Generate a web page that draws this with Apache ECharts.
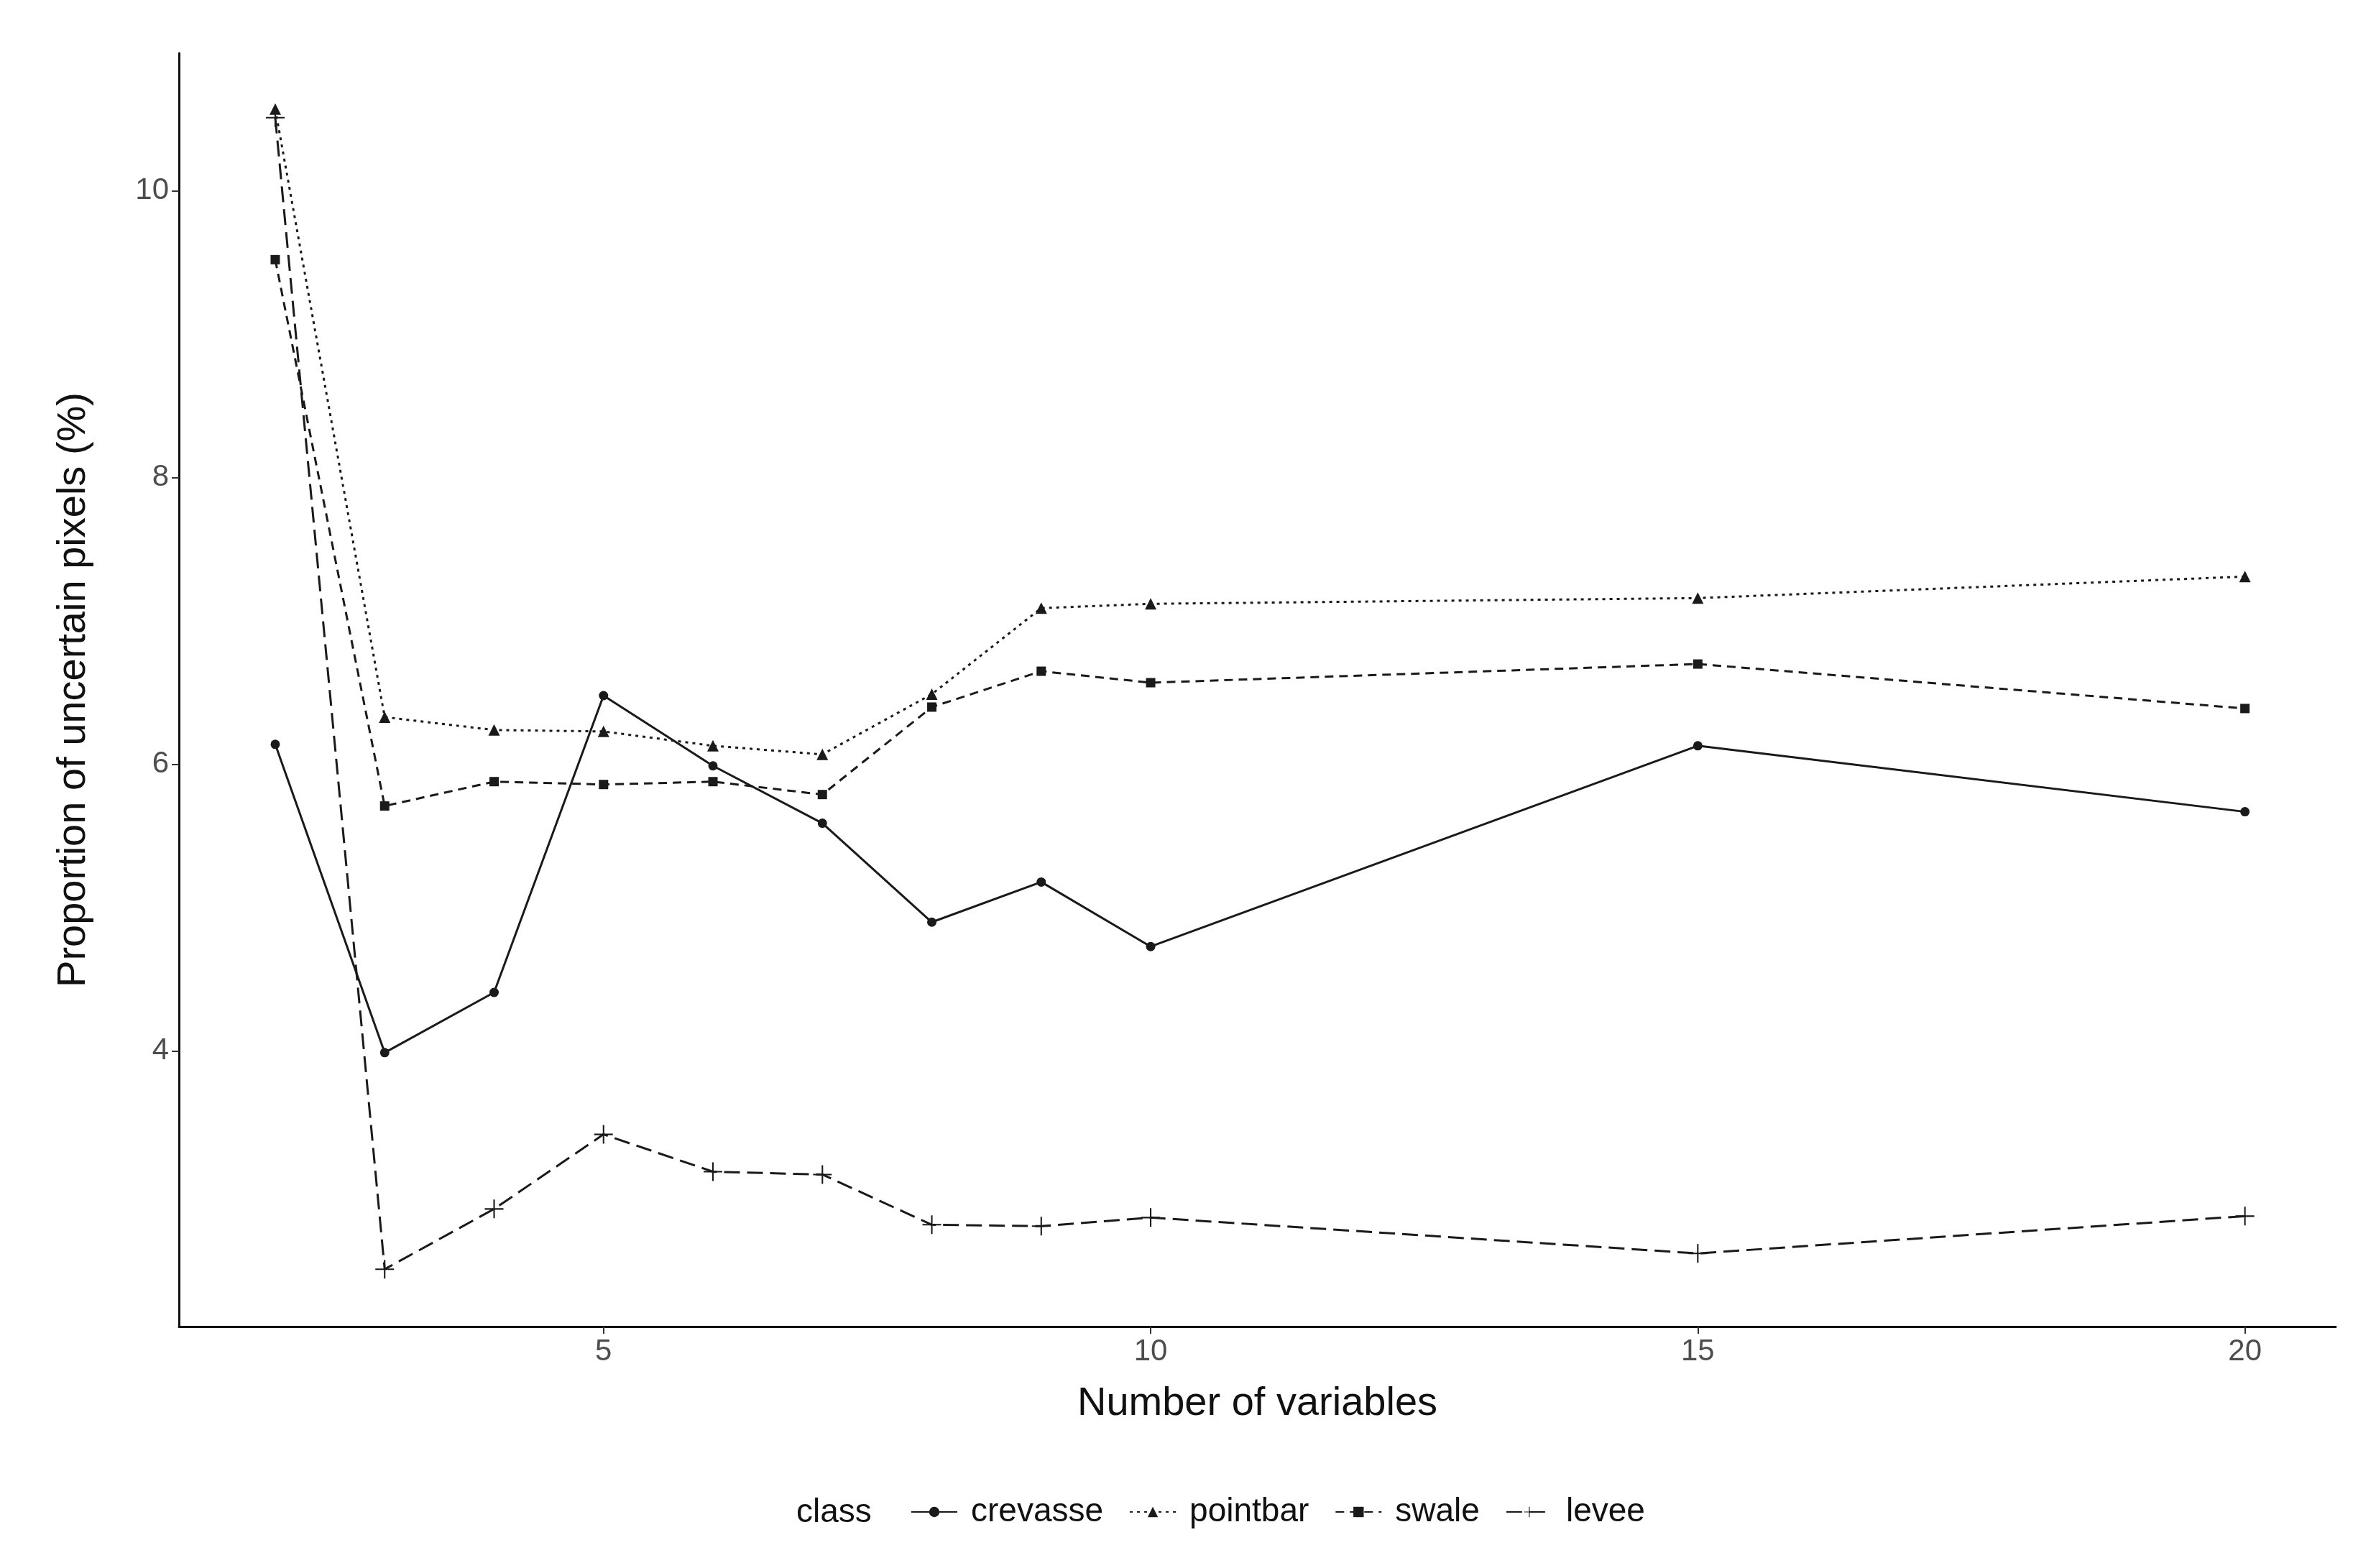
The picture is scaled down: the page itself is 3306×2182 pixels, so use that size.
<!DOCTYPE html>
<html><head><meta charset="utf-8">
<script src="https://cdn.jsdelivr.net/npm/echarts@6/dist/echarts.min.js"></script>
<style>html,body{margin:0;padding:0;background:#fff}#c{width:3306px;height:2182px}</style>
</head><body><div id="c"></div>
<script>
const xVals = [2,3,4,5,6,7,8,9,10,15,20];
const crevasse = [6.14,3.99,4.41,6.48,5.99,5.59,4.90,5.18,4.73,6.13,5.67];
const pointbar = [10.57,6.33,6.24,6.23,6.13,6.07,6.49,7.09,7.12,7.16,7.31];
const swale = [9.52,5.71,5.88,5.86,5.88,5.79,6.40,6.65,6.57,6.70,6.39];
const levee = [10.51,2.48,2.90,3.42,3.16,3.14,2.79,2.78,2.84,2.59,2.85];
const xTicks = [5,10,15,20];
const yTicks = [4,6,8,10];

const col = '#1a1a1a';
const plus = 'path://M-1,-0.08L1,-0.08L1,0.08L-1,0.08Z M-0.08,-1L0.08,-1L0.08,1L-0.08,1Z';
function mk(name, data, type, symbol, size){
  return {name, type:'line', data:xVals.map((x,i)=>[x,data[i]]), symbol, symbolSize:size,
    lineStyle:{color:col,width:3,type}, itemStyle:{color:col}};
}
const chart = echarts.init(document.getElementById('c'));
chart.setOption({
  animation:false,
  backgroundColor:'#fff',
  grid:{left:249,right:56,top:74,bottom:336},
  xAxis:{type:'value',min:1.12,max:20.83,name:'Number of variables',nameLocation:'middle',nameGap:80,
    nameTextStyle:{fontSize:56,color:'#111',fontFamily:'Liberation Sans'},
    splitLine:{show:false},axisLine:{lineStyle:{color:'#111',width:3}},
    axisTick:{customValues:xTicks,length:10,lineStyle:{color:'#333',width:2}},
    axisLabel:{customValues:xTicks,fontSize:42,color:'#4d4d4d',margin:14,fontFamily:'Liberation Sans'}},
  yAxis:{type:'value',min:2.08,max:10.96,name:'Proportion of uncertain pixels (%)',nameLocation:'middle',nameGap:118,
    nameTextStyle:{fontSize:56,color:'#111',fontFamily:'Liberation Sans'},
    splitLine:{show:false},axisLine:{show:true,lineStyle:{color:'#111',width:3}},
    axisTick:{show:true,customValues:yTicks,length:10,lineStyle:{color:'#333',width:2}},
    axisLabel:{customValues:yTicks,fontSize:42,color:'#4d4d4d',margin:14,fontFamily:'Liberation Sans'}},
  legend:{bottom:50,left:1262,itemWidth:64,itemHeight:18,itemGap:36,
    textStyle:{fontSize:46,color:'#111',fontFamily:'Liberation Sans',padding:[0,0,0,14]},
    data:['crevasse','pointbar','swale','levee']},
  graphic:[{type:'text',left:1108,bottom:54,style:{text:'class',fontSize:46,fill:'#111',fontFamily:'Liberation Sans'}}],
  series:[
    mk('crevasse',crevasse,'solid','circle',13),
    mk('pointbar',pointbar,[4,6],'triangle',16),
    mk('swale',swale,[12,8],'rect',13),
    mk('levee',levee,[22,10],plus,26)
  ]
});
</script></body></html>
